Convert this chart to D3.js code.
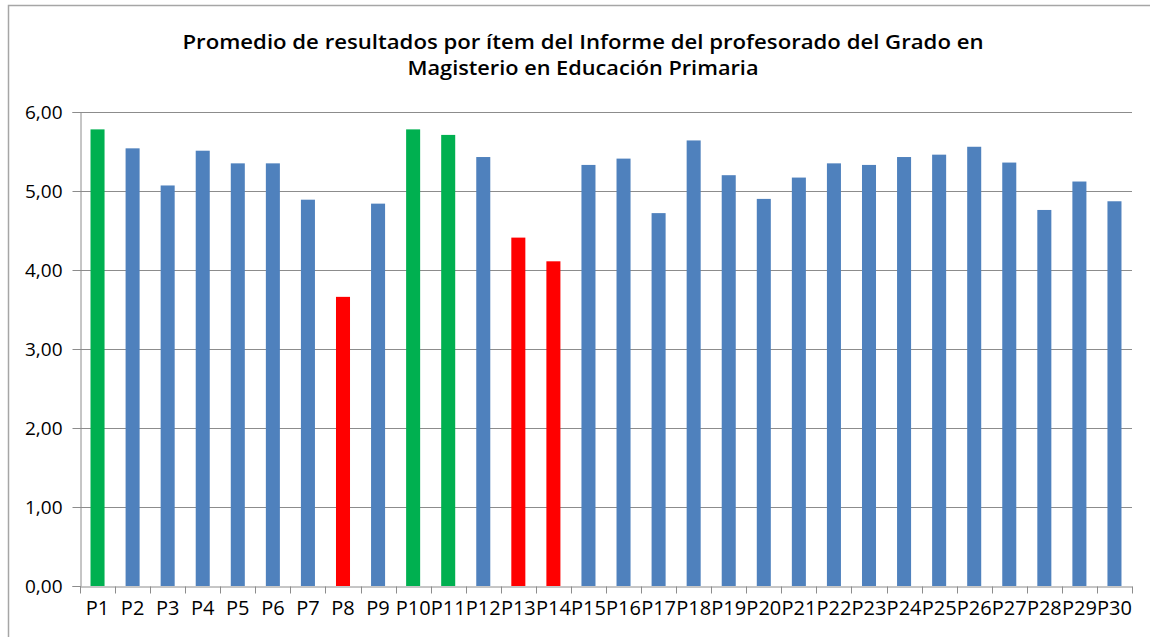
<!DOCTYPE html>
<html>
<head>
<meta charset="utf-8">
<script src="https://cdn.jsdelivr.net/npm/d3@7"></script>
<style>
  body { margin: 0; background: #fff; }
  text { font-family: "Open Sans", "Liberation Sans", sans-serif; fill: #000; }
</style>
</head>
<body>
<div class="chart"></div>
<script>
// data
const items = ["P1","P2","P3","P4","P5","P6","P7","P8","P9","P10",
  "P11","P12","P13","P14","P15","P16","P17","P18","P19","P20",
  "P21","P22","P23","P24","P25","P26","P27","P28","P29","P30"];
const promedios = [5.78, 5.54, 5.07, 5.51, 5.35, 5.35, 4.89, 3.66, 4.84, 5.78,
  5.71, 5.43, 4.41, 4.11, 5.33, 5.41, 4.72, 5.64, 5.20, 4.90,
  5.17, 5.35, 5.33, 5.43, 5.46, 5.56, 5.36, 4.76, 5.12, 4.87];
const mejores = ["P1", "P10", "P11"];
const peores = ["P8", "P13", "P14"];
const yTicks = [0, 1, 2, 3, 4, 5, 6];
const titleLines = ["Promedio de resultados por ítem del Informe del profesorado del Grado en",
  "Magisterio en Educación Primaria"];

const svgWidth = 1150;
const svgHeight = 637;

const margin = { top: 112, right: 18, bottom: 51, left: 80 };
const width = svgWidth - margin.left - margin.right;
const height = svgHeight - margin.top - margin.bottom;

const svg = d3.select(".chart")
  .append("svg")
  .attr("width", svgWidth)
  .attr("height", svgHeight);

// chart border (runs off the right and bottom edge in the original)
svg.append("rect")
  .attr("x", 8.5)
  .attr("y", 5.5)
  .attr("width", svgWidth + 20)
  .attr("height", svgHeight + 20)
  .attr("fill", "none")
  .attr("stroke", "#a6a6a6")
  .attr("stroke-width", 1.5);

// title, stretched a bit like the picture
const titleWidths = [801, 351];
svg.selectAll(".title")
  .data(titleLines)
  .enter()
  .append("text")
  .attr("class", "title")
  .attr("x", 583)
  .attr("y", (d, i) => 49 + i * 26)
  .attr("text-anchor", "middle")
  .attr("font-size", 19)
  .attr("font-weight", 600)
  .attr("textLength", (d, i) => titleWidths[i])
  .attr("lengthAdjust", "spacingAndGlyphs")
  .text(d => d);

const chartGroup = svg.append("g")
  .attr("transform", `translate(${margin.left}, ${margin.top})`);

const xBandScale = d3.scaleBand()
  .domain(items)
  .range([0, width])
  .paddingInner(0.6)
  .paddingOuter(0.3);

const yLinearScale = d3.scaleLinear()
  .domain([0, 6])
  .range([height, 0]);

const colorScale = d3.scaleOrdinal()
  .domain(["alto", "bajo", "normal"])
  .range(["#00b050", "#ff0000", "#4f81bd"]);

const estado = d => mejores.includes(d) ? "alto" : (peores.includes(d) ? "bajo" : "normal");

// gridlines
chartGroup.append("g")
  .selectAll("line")
  .data(yTicks.filter(t => t > 0))
  .enter()
  .append("line")
  .attr("x1", 0)
  .attr("x2", width)
  .attr("y1", d => Math.round(yLinearScale(d)) + 0.5)
  .attr("y2", d => Math.round(yLinearScale(d)) + 0.5)
  .attr("stroke", "#8c8c8c")
  .attr("stroke-width", 1);

// bars
chartGroup.selectAll(".bar")
  .data(items)
  .enter()
  .append("rect")
  .attr("class", "bar")
  .attr("x", d => xBandScale(d))
  .attr("y", (d, i) => yLinearScale(promedios[i]))
  .attr("width", xBandScale.bandwidth())
  .attr("height", (d, i) => height - yLinearScale(promedios[i]))
  .attr("fill", d => colorScale(estado(d)));

// y axis
const leftAxis = d3.axisLeft(yLinearScale)
  .tickValues(yTicks)
  .tickSize(8)
  .tickPadding(10)
  .tickFormat(d => d3.format(".2f")(d).replace(".", ","));

const yAxis = chartGroup.append("g")
  .attr("transform", "translate(0.5, 0)")
  .call(leftAxis);
yAxis.select(".domain").attr("stroke", "#8c8c8c");
yAxis.selectAll(".tick line").attr("stroke", "#8c8c8c");
yAxis.selectAll(".tick text")
  .attr("font-size", 19)
  .attr("font-family", "'Open Sans', sans-serif")
  .attr("fill", "#000");
yAxis.selectAll(".tick")
  .attr("transform", d => `translate(0, ${Math.round(yLinearScale(d)) + 0.5})`);

// x axis: labels centred in the band, ticks on the category boundaries
const bottomAxis = d3.axisBottom(xBandScale)
  .tickSize(0)
  .tickPadding(14);

const xAxis = chartGroup.append("g")
  .attr("transform", `translate(0, ${Math.round(height) + 0.5})`)
  .call(bottomAxis);
xAxis.select(".domain").attr("stroke", "#8c8c8c");
xAxis.selectAll(".tick text")
  .attr("font-size", 20)
  .attr("font-family", "'Open Sans', sans-serif")
  .attr("fill", "#000");

const boundaries = d3.range(items.length + 1).map(i => i * xBandScale.step());
xAxis.append("g")
  .selectAll("line")
  .data(boundaries)
  .enter()
  .append("line")
  .attr("x1", d => Math.round(d) + 0.5)
  .attr("x2", d => Math.round(d) + 0.5)
  .attr("y1", 0)
  .attr("y2", 7)
  .attr("stroke", "#8c8c8c");
</script>
</body>
</html>
